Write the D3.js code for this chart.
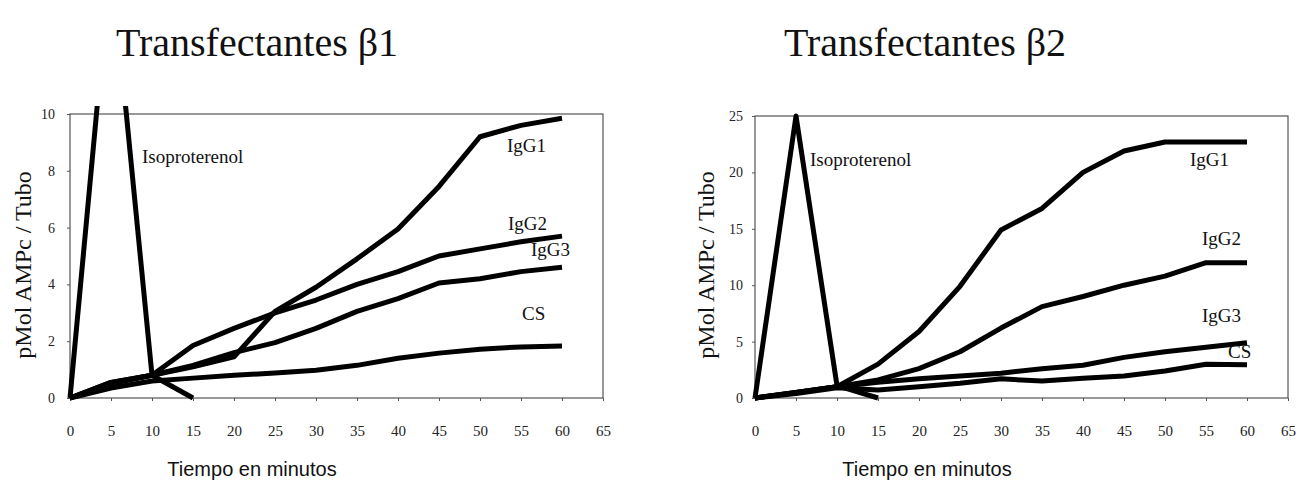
<!DOCTYPE html>
<html><head><meta charset="utf-8">
<script src="https://cdn.jsdelivr.net/npm/d3@7"></script>
<style>body{margin:0;background:#fff}svg{display:block}</style>
</head><body>
<svg id="c" width="1308" height="486"></svg>
<script>
// ---- data ----
const times = [0,5,10,15,20,25,30,35,40,45,50,55,60];
const isoTimes = [0,5,10,15];
const xTicks = [0,5,10,15,20,25,30,35,40,45,50,55,60,65];

const b1Iso  = [0, 15.5, 0.8, 0];
const b1IgG1 = [0, 0.55, 0.8, 1.1, 1.45, 3.05, 3.9, 4.9, 5.95, 7.45, 9.2, 9.6, 9.85];
const b1IgG2 = [0, 0.55, 0.8, 1.85, 2.45, 3.0, 3.45, 4.0, 4.45, 5.0, 5.25, 5.5, 5.7];
const b1IgG3 = [0, 0.5, 0.8, 1.15, 1.6, 1.95, 2.45, 3.05, 3.5, 4.05, 4.2, 4.45, 4.6];
const b1CS   = [0, 0.35, 0.6, 0.7, 0.8, 0.88, 0.98, 1.15, 1.4, 1.58, 1.72, 1.8, 1.83];
const b1YTicks = [0,2,4,6,8,10];

const b2Iso  = [0, 25, 1.1, 0];
const b2IgG1 = [0, 0.5, 1.0, 3.0, 5.9, 9.9, 14.9, 16.8, 20.0, 21.9, 22.7, 22.7, 22.7];
const b2IgG2 = [0, 0.5, 1.0, 1.6, 2.6, 4.1, 6.2, 8.1, 9.0, 10.0, 10.8, 12.0, 12.0];
const b2IgG3 = [0, 0.5, 1.0, 1.4, 1.7, 1.95, 2.2, 2.6, 2.9, 3.6, 4.1, 4.5, 4.9];
const b2CS   = [0, 0.4, 0.9, 0.7, 1.0, 1.3, 1.7, 1.5, 1.75, 1.95, 2.4, 3.0, 2.95];
const b2YTicks = [0,5,10,15,20,25];

const titles = ["Transfectantes \u03b21", "Transfectantes \u03b22"];
const yTitle = "pMol AMPc / Tubo";
const xTitle = "Tiempo en minutos";

// ---- drawing ----
const svg = d3.select("#c");

function panel(opt){
  const x = d3.scaleLinear().domain([0,65]).range([opt.x0, opt.x1]);
  const y = d3.scaleLinear().domain([0,opt.ymax]).range([398, opt.yTop]);
  const g = svg.append("g");

  g.append("text").attr("x", opt.tx).attr("y", 56).attr("text-anchor","middle")
    .attr("font-family","'Liberation Serif', serif").attr("font-size",40).attr("fill","#111")
    .text(opt.title);
  g.append("text").attr("transform",`translate(${opt.ytx},${opt.yty}) rotate(-90)`)
    .attr("text-anchor","middle").attr("font-family","'Liberation Serif', serif")
    .attr("font-size",24).attr("fill","#111").text(yTitle);
  g.append("text").attr("x", opt.xtx).attr("y", 476).attr("text-anchor","middle")
    .attr("font-family","'Liberation Sans', Arial, sans-serif").attr("font-size",20).attr("fill","#111")
    .text(xTitle);

  g.append("rect").attr("x", x(0)).attr("y", y(opt.ymax)).attr("width", x(65)-x(0))
    .attr("height", y(0)-y(opt.ymax)).attr("fill","none").attr("stroke","#333").attr("stroke-width",1);

  const xa = g.append("g").attr("transform",`translate(0,${y(0)})`)
    .call(d3.axisBottom(x).tickValues(xTicks).tickSize(3).tickPadding(24).tickFormat(d3.format("d")));
  const ya = g.append("g").attr("transform",`translate(${x(0)},0)`)
    .call(d3.axisLeft(y).tickValues(opt.yTicks).tickSize(3).tickPadding(opt.yPad).tickFormat(d3.format("d")));
  [xa, ya].forEach(a=>{
    a.select(".domain").remove();
    a.selectAll("line").attr("stroke","#555");
    a.selectAll("text").attr("font-family","'Liberation Serif', serif").attr("font-size",14)
      .attr("fill","#222");
  });
  xa.selectAll("text").attr("font-size",15);

  const cid = "clip"+opt.id;
  svg.append("clipPath").attr("id",cid).append("rect")
    .attr("x", x(0)-5).attr("y", y(opt.ymax)-8).attr("width", x(65)-x(0)+10).attr("height", y(0)-y(opt.ymax)+14);

  const line = d3.line().x(d=>x(d[0])).y(d=>y(d[1]));
  const lg = g.append("g").attr("clip-path",`url(#${cid})`);
  const series = [
    isoTimes.map((t,i)=>[t,opt.iso[i]]),
    ...opt.series.map(s=>times.map((t,i)=>[t,s[i]]))
  ];
  lg.selectAll("path").data(series).join("path")
    .attr("d", line).attr("fill","none").attr("stroke","#000").attr("stroke-width",5)
    .attr("stroke-linejoin","round").attr("stroke-linecap","butt");

  g.selectAll("text.lab").data(opt.labels).join("text").attr("class","lab")
    .attr("x", d=>d[1]).attr("y", d=>d[2])
    .attr("font-family","'Liberation Serif', serif").attr("font-size", 19).attr("fill","#111")
    .text(d=>d[0]);
}

panel({id:1, x0:70, x1:603, yTop:114, ymax:10, tx:257, ytx:31, yty:265, xtx:252, yPad:12,
  title:titles[0], yTicks:b1YTicks, iso:b1Iso, series:[b1IgG1,b1IgG2,b1IgG3,b1CS],
  labels:[["Isoproterenol",142,163],["IgG1",507,152],["IgG2",508,230],["IgG3",531,256],["CS",522,320]]});

panel({id:2, x0:755, x1:1288, yTop:116, ymax:25, tx:925, ytx:714, yty:265, xtx:927, yPad:9,
  title:titles[1], yTicks:b2YTicks, iso:b2Iso, series:[b2IgG1,b2IgG2,b2IgG3,b2CS],
  labels:[["Isoproterenol",810,166],["IgG1",1190,166],["IgG2",1202,245],["IgG3",1202,322],["CS",1228,358]]});
</script>
</body></html>
